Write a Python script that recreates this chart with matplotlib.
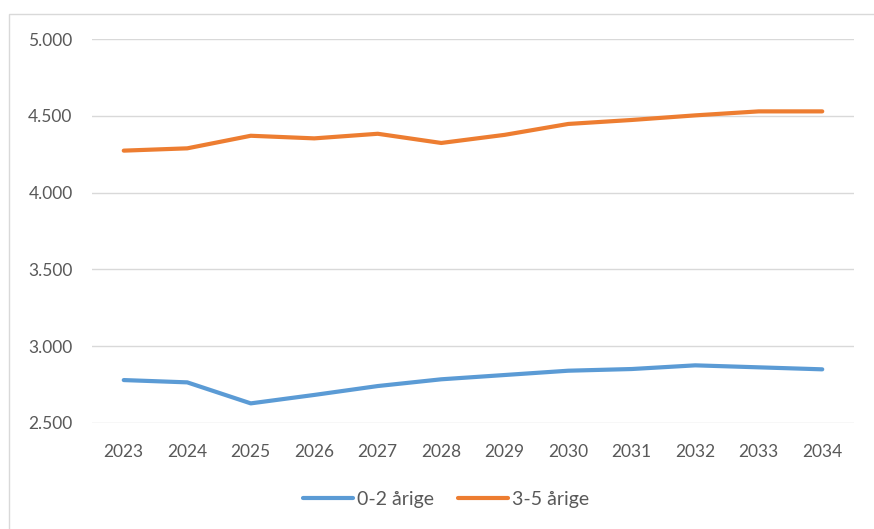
import matplotlib
matplotlib.use("Agg")
import matplotlib.pyplot as plt
from matplotlib.patches import Rectangle
from matplotlib.ticker import FuncFormatter

plt.rcParams['font.family'] = ['Lato', 'DejaVu Sans']

years = ["2023", "2024", "2025", "2026", "2027", "2028", "2029", "2030", "2031", "2032", "2033", "2034"]
age_0_2 = [2778, 2763, 2626, 2681, 2739, 2783, 2811, 2839, 2850, 2874, 2861, 2848]
age_3_5 = [4274, 4289, 4371, 4354, 4384, 4324, 4377, 4448, 4474, 4504, 4530, 4530]
series_names = ["0-2 årige", "3-5 årige"]
yticks = [2500, 3000, 3500, 4000, 4500, 5000]

W, H = 874, 529
fig = plt.figure(figsize=(W / 100, H / 100), dpi=100)
fig.patch.set_facecolor("white")

# outer chart border
fig.patches.append(Rectangle((9 / W, -0.1), 1.2, 1 - 14 / H + 0.1, transform=fig.transFigure,
                             fill=False, edgecolor="#D9D9D9", linewidth=1.0))

left, right = 92 / W, 854 / W
top, bottom = 1 - 39.3 / H, 1 - 422.7 / H
ax = fig.add_axes([left, bottom, right - left, top - bottom])

x = list(range(len(years)))
ax.plot(x, age_0_2, color="#5B9BD5", lw=3.0, solid_capstyle="round", label=series_names[0], zorder=3)
ax.plot(x, age_3_5, color="#ED7D31", lw=3.0, solid_capstyle="round", label=series_names[1], zorder=3)

ax.set_xlim(-0.5, len(years) - 0.5)
ax.set_ylim(2500, 5000)
ax.set_yticks(yticks)
ax.yaxis.set_major_formatter(FuncFormatter(lambda v, p: f"{v:,.0f}".replace(",", ".")))
ax.set_xticks(x)
ax.set_xticklabels(years)

ax.grid(axis="y", color="#D9D9D9", lw=1.0, zorder=0)
for s in ax.spines.values():
    s.set_visible(False)
ax.tick_params(axis="both", length=0, labelsize=12.5, labelcolor="#595959")
ax.tick_params(axis="y", pad=14)
ax.tick_params(axis="x", pad=15)

fig.legend(loc="center", bbox_to_anchor=(446 / W, 1 - 499 / H), ncol=2, frameon=False,
           fontsize=14, labelcolor="#595959", handlelength=2.6, handletextpad=0.2,
           columnspacing=1.2)

fig.savefig("out.png", dpi=100, facecolor="white")
